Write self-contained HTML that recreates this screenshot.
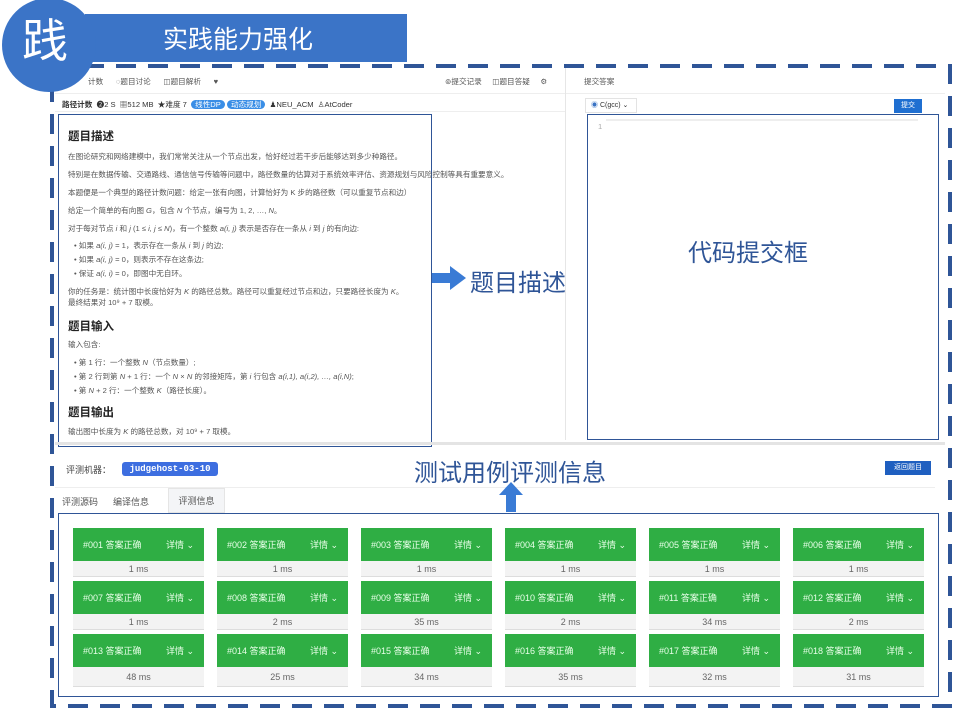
<!DOCTYPE html>
<html><head><meta charset="utf-8"><style>
*{margin:0;padding:0;box-sizing:border-box}
body{width:963px;height:715px;background:#fff;position:relative;overflow:hidden;font-family:"Liberation Sans","Noto Sans CJK SC",sans-serif;color:#333}
.a{position:absolute}
.t{font-size:7.6px;color:#555;white-space:nowrap}
.h{font-size:11.5px;font-weight:bold;color:#222}
.card{position:absolute;width:131px}
.g{height:33px;background:#2fae44;color:#e8ffe8;font-size:9px;display:flex;align-items:center;justify-content:space-between;padding:0 10px}
.ms{height:16px;background:#f3f3f3;color:#666;font-size:9px;text-align:center;line-height:16px;border-bottom:1px solid #ddd}
.big{font-size:24px;color:#2f5597;white-space:nowrap}
</style></head><body>
<div class="a" style="left:55px;top:68px;width:890px;height:632px;background:#fff"></div>
<div class="a" style="left:55px;top:68px;width:510px;height:26px;border-bottom:1px solid #eee"></div>
<div class="a t" style="left:88px;top:76px">计数 &nbsp;&nbsp;&nbsp;&nbsp; ◌题目讨论 &nbsp;&nbsp;&nbsp;&nbsp; ◫题目解析 &nbsp;&nbsp;&nbsp;&nbsp; ♥</div>
<div class="a t" style="left:445px;top:76px">⊚提交记录 &nbsp;&nbsp;&nbsp; ◫题目答疑 &nbsp;&nbsp;&nbsp; ⚙</div>
<div class="a" style="left:565px;top:68px;width:1px;height:372px;background:#e6e6e6"></div>
<div class="a t" style="left:584px;top:76px">提交答案</div>
<div class="a" style="left:566px;top:93px;width:379px;height:1px;background:#eee"></div>
<div class="a t" style="left:62px;top:99px;color:#333"><b>路径计数</b> &nbsp;❷2 S &nbsp;▦512 MB &nbsp;★难度 7 &nbsp;<span style="background:#3a8ee6;color:#fff;border-radius:6px;padding:0 4px">线性DP</span> <span style="background:#3a8ee6;color:#fff;border-radius:6px;padding:0 4px">动态规划</span> &nbsp;♟NEU_ACM &nbsp;♙AtCoder</div>
<div class="a" style="left:55px;top:111px;width:510px;height:1px;background:#eee"></div>
<div class="a" style="left:585px;top:98px;width:52px;height:15px;border:1px solid #e3e3e3;font-size:7px;line-height:13px;padding-left:5px"><span style="color:#3a73c4">◉</span> C(gcc) ⌄</div>
<div class="a" style="left:894px;top:99px;width:28px;height:14px;background:#1f6fd1;color:#fff;font-size:7px;text-align:center;line-height:14px">提交</div>
<div class="a t" style="left:598px;top:122px;color:#aaa">1</div>
<div class="a" style="left:606px;top:119px;width:312px;height:2px;background:#eee"></div>

<div class="a" style="left:58px;top:114px;width:374px;height:333px;border:1.5px solid #2f5597"></div>
<div class="a h" style="left:68px;top:128px">题目描述</div>
<div class="a t" style="left:68px;top:151px">在图论研究和网络建模中，我们常常关注从一个节点出发，恰好经过若干步后能够达到多少种路径。</div>
<div class="a t" style="left:68px;top:169px">特别是在数据传输、交通路线、通信信号传输等问题中，路径数量的估算对于系统效率评估、资源规划与风险控制等具有重要意义。</div>
<div class="a t" style="left:68px;top:187px">本题便是一个典型的路径计数问题：给定一张有向图，计算恰好为 K 步的路径数（可以重复节点和边）</div>
<div class="a t" style="left:68px;top:205px">给定一个简单的有向图 <i>G</i>，包含 <i>N</i> 个节点，编号为 1, 2, …, <i>N</i>。</div>
<div class="a t" style="left:68px;top:223px">对于每对节点 <i>i</i> 和 <i>j</i> (1 ≤ <i>i, j</i> ≤ <i>N</i>)，有一个整数 <i>a(i, j)</i> 表示是否存在一条从 <i>i</i> 到 <i>j</i> 的有向边:</div>
<div class="a t" style="left:74px;top:240px">• 如果 <i>a(i, j)</i> = 1，表示存在一条从 <i>i</i> 到 <i>j</i> 的边;</div>
<div class="a t" style="left:74px;top:254px">• 如果 <i>a(i, j)</i> = 0，则表示不存在这条边;</div>
<div class="a t" style="left:74px;top:268px">• 保证 <i>a(i, i)</i> = 0，即图中无自环。</div>
<div class="a t" style="left:68px;top:286px">你的任务是：统计图中长度恰好为 <i>K</i> 的路径总数。路径可以重复经过节点和边，只要路径长度为 <i>K</i>。</div>
<div class="a t" style="left:68px;top:297px">最终结果对 10⁹ + 7 取模。</div>
<div class="a h" style="left:68px;top:318px">题目输入</div>
<div class="a t" style="left:68px;top:339px">输入包含:</div>
<div class="a t" style="left:74px;top:357px">• 第 1 行：一个整数 <i>N</i>（节点数量）;</div>
<div class="a t" style="left:74px;top:371px">• 第 2 行到第 <i>N</i> + 1 行：一个 <i>N</i> × <i>N</i> 的邻接矩阵，第 <i>i</i> 行包含 <i>a(i,1), a(i,2), …, a(i,N)</i>;</div>
<div class="a t" style="left:74px;top:385px">• 第 <i>N</i> + 2 行：一个整数 <i>K</i>（路径长度）。</div>
<div class="a h" style="left:68px;top:404px">题目输出</div>
<div class="a t" style="left:68px;top:426px">输出图中长度为 <i>K</i> 的路径总数，对 10⁹ + 7 取模。</div>

<div class="a" style="left:587px;top:114px;width:352px;height:326px;border:1.5px solid #2f5597"></div>
<div class="a big" style="left:688px;top:233px">代码提交框</div>

<svg class="a" style="left:430px;top:264px" width="40" height="28"><polygon points="2,9 20,9 20,2 36,14 20,26 20,19 2,19" fill="#3a7bd5"/></svg>
<div class="a big" style="left:470px;top:263px">题目描述</div>

<div class="a" style="left:55px;top:442px;width:890px;height:3px;background:#e4e4e4"></div>
<div class="a" style="left:66px;top:463px;font-size:9px;color:#444">评测机器：</div>
<div class="a" style="left:122px;top:462px;width:96px;height:14px;background:#3d6ee0;border-radius:3px;color:#fff;font-size:9px;line-height:14px;text-align:center;font-family:'Liberation Mono',monospace;font-weight:bold">judgehost-03-10</div>
<div class="a big" style="left:414px;top:453px">测试用例评测信息</div>
<div class="a" style="left:885px;top:461px;width:46px;height:14px;background:#1f5fc0;color:#fff;font-size:7px;text-align:center;line-height:14px">返回题目</div>
<div class="a" style="left:55px;top:487px;width:880px;height:1px;background:#eee"></div>
<svg class="a" style="left:498px;top:481px" width="26" height="32"><polygon points="13,1 25,14 18,14 18,31 8,31 8,14 1,14" fill="#3a7bd5"/></svg>
<div class="a" style="left:62px;top:495px;font-size:9px;color:#555">评测源码 &nbsp;&nbsp;&nbsp;&nbsp; 编译信息</div>
<div class="a" style="left:168px;top:488px;width:57px;height:25px;background:#f4f5f7;border:1px solid #e5e5e5;font-size:9px;color:#555;line-height:24px;text-align:center">评测信息</div>
<div class="a" style="left:58px;top:513px;width:881px;height:184px;border:1.5px solid #2f5597"></div>

<div class="card" style="left:73px;top:528px"><div class="g"><span>#001 答案正确</span><span>详情 ⌄</span></div><div class="ms">1 ms</div></div>
<div class="card" style="left:217px;top:528px"><div class="g"><span>#002 答案正确</span><span>详情 ⌄</span></div><div class="ms">1 ms</div></div>
<div class="card" style="left:361px;top:528px"><div class="g"><span>#003 答案正确</span><span>详情 ⌄</span></div><div class="ms">1 ms</div></div>
<div class="card" style="left:505px;top:528px"><div class="g"><span>#004 答案正确</span><span>详情 ⌄</span></div><div class="ms">1 ms</div></div>
<div class="card" style="left:649px;top:528px"><div class="g"><span>#005 答案正确</span><span>详情 ⌄</span></div><div class="ms">1 ms</div></div>
<div class="card" style="left:793px;top:528px"><div class="g"><span>#006 答案正确</span><span>详情 ⌄</span></div><div class="ms">1 ms</div></div>
<div class="card" style="left:73px;top:581px"><div class="g"><span>#007 答案正确</span><span>详情 ⌄</span></div><div class="ms">1 ms</div></div>
<div class="card" style="left:217px;top:581px"><div class="g"><span>#008 答案正确</span><span>详情 ⌄</span></div><div class="ms">2 ms</div></div>
<div class="card" style="left:361px;top:581px"><div class="g"><span>#009 答案正确</span><span>详情 ⌄</span></div><div class="ms">35 ms</div></div>
<div class="card" style="left:505px;top:581px"><div class="g"><span>#010 答案正确</span><span>详情 ⌄</span></div><div class="ms">2 ms</div></div>
<div class="card" style="left:649px;top:581px"><div class="g"><span>#011 答案正确</span><span>详情 ⌄</span></div><div class="ms">34 ms</div></div>
<div class="card" style="left:793px;top:581px"><div class="g"><span>#012 答案正确</span><span>详情 ⌄</span></div><div class="ms">2 ms</div></div>
<div class="card" style="left:73px;top:634px"><div class="g"><span>#013 答案正确</span><span>详情 ⌄</span></div><div class="ms" style="height:20px;line-height:20px">48 ms</div></div>
<div class="card" style="left:217px;top:634px"><div class="g"><span>#014 答案正确</span><span>详情 ⌄</span></div><div class="ms" style="height:20px;line-height:20px">25 ms</div></div>
<div class="card" style="left:361px;top:634px"><div class="g"><span>#015 答案正确</span><span>详情 ⌄</span></div><div class="ms" style="height:20px;line-height:20px">34 ms</div></div>
<div class="card" style="left:505px;top:634px"><div class="g"><span>#016 答案正确</span><span>详情 ⌄</span></div><div class="ms" style="height:20px;line-height:20px">35 ms</div></div>
<div class="card" style="left:649px;top:634px"><div class="g"><span>#017 答案正确</span><span>详情 ⌄</span></div><div class="ms" style="height:20px;line-height:20px">32 ms</div></div>
<div class="card" style="left:793px;top:634px"><div class="g"><span>#018 答案正确</span><span>详情 ⌄</span></div><div class="ms" style="height:20px;line-height:20px">31 ms</div></div>

<svg class="a" style="left:0;top:0" width="963" height="715"><rect x="52" y="66" width="898" height="640" fill="none" stroke="#2f5597" stroke-width="4" stroke-dasharray="20,12"/></svg>

<div class="a" style="left:85px;top:14px;width:322px;height:48px;background:#3b74c7"></div>
<div class="a" style="left:163px;top:20px;font-size:25px;color:#fff;white-space:nowrap">实践能力强化</div>
<div class="a" style="left:2px;top:-2px;width:94px;height:94px;border-radius:50%;background:#3b74c7"></div>
<div class="a" style="left:22px;top:16px;font-size:46px;color:#fff;line-height:50px">践</div>
</body></html>
